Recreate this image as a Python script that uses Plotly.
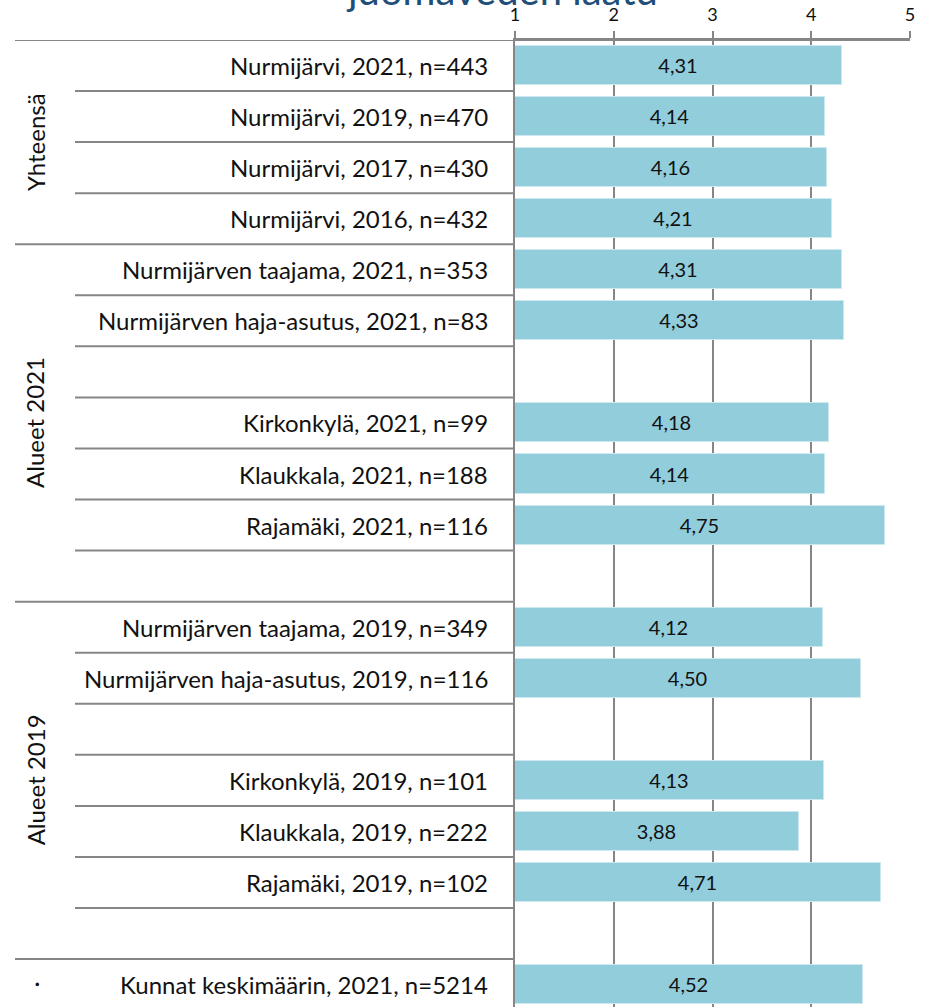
import plotly.graph_objects as go

title_text = "juomaveden laatu"
row_labels = [
    "Nurmijärvi, 2021, n=443",
    "Nurmijärvi, 2019, n=470",
    "Nurmijärvi, 2017, n=430",
    "Nurmijärvi, 2016, n=432",
    "Nurmijärven taajama, 2021, n=353",
    "Nurmijärven haja-asutus, 2021, n=83",
    "",
    "Kirkonkylä, 2021, n=99",
    "Klaukkala, 2021, n=188",
    "Rajamäki, 2021, n=116",
    "",
    "Nurmijärven taajama, 2019, n=349",
    "Nurmijärven haja-asutus, 2019, n=116",
    "",
    "Kirkonkylä, 2019, n=101",
    "Klaukkala, 2019, n=222",
    "Rajamäki, 2019, n=102",
    "",
    "Kunnat keskimäärin, 2021, n=5214",
]
values = [4.31, 4.14, 4.16, 4.21, 4.31, 4.33, None, 4.18, 4.14, 4.75, None,
          4.12, 4.50, None, 4.13, 3.88, 4.71, None, 4.52]
group_names = ["Yhteensä", "Alueet 2021", "Alueet 2019", "·"]
group_sizes = [4, 7, 7, 1]
x_ticks = [1, 2, 3, 4, 5]
scale_min = 1

FONT = "Lato"
GRAY = "#868686"
L, R, T, B = 515, 15, 40, 0
W, H = 925, 1007
plot_w = W - L - R
n_rows = len(row_labels)
row_px = 51.06
plot_h = H - T - B
y_bottom = -0.5 + plot_h / row_px

idx = list(range(n_rows))
bar_y = [i for i, v in zip(idx, values) if v is not None]
bar_v = [v for v in values if v is not None]

fig = go.Figure()
fig.add_trace(go.Bar(
    y=bar_y,
    x=[v - scale_min for v in bar_v],
    base=scale_min,
    orientation="h",
    width=0.765,
    marker=dict(color="#92CDDC", line=dict(color="#CDE8EF", width=1)),
    text=[f"{v:.2f}".replace(".", ",") for v in bar_v],
    textposition="inside",
    insidetextanchor="middle",
    textangle=0,
    textfont=dict(family=FONT, size=20, color="#111111"),
    hoverinfo="skip",
    cliponaxis=False,
))

def px_to_paper_x(p):
    return (p - L) / plot_w

shapes = []
annotations = []
full_bounds = []
pos = 0
for name, size in zip(group_names, group_sizes):
    start = pos
    end = pos + size
    full_bounds.append(start - 0.5)
    for k in range(start + 1, end):
        shapes.append(dict(type="line", xref="paper", yref="y",
                           x0=px_to_paper_x(75), x1=0, y0=k - 0.5, y1=k - 0.5,
                           line=dict(color=GRAY, width=2)))
    annotations.append(dict(text=name, xref="paper", yref="y",
                            x=px_to_paper_x(35), y=(start + end - 1) / 2,
                            textangle=-90, showarrow=False,
                            font=dict(family=FONT, size=24, color="#111111"),
                            xanchor="center", yanchor="middle"))
    pos = end

for i, b in enumerate(full_bounds):
    shapes.append(dict(type="line", xref="paper", yref="y",
                       x0=px_to_paper_x(15), x1=1 if i == 0 else 0, y0=b, y1=b,
                       line=dict(color=GRAY, width=2)))

for i, lab in enumerate(row_labels):
    if lab:
        annotations.append(dict(text=lab, xref="paper", yref="y", x=0, y=i,
                                xshift=-25, xanchor="right", yanchor="middle",
                                showarrow=False,
                                font=dict(family=FONT, size=24, color="#111111")))

annotations.append(dict(text=title_text, xref="paper", yref="paper",
                        x=px_to_paper_x(502), y=1 + 24 / plot_h,
                        xanchor="center", yanchor="bottom", showarrow=False,
                        font=dict(family=FONT, size=40, color="#1F4E79")))

fig.update_layout(
    width=W, height=H,
    margin=dict(l=L, r=R, t=T, b=B, autoexpand=False),
    paper_bgcolor="white", plot_bgcolor="white",
    showlegend=False,
    shapes=shapes,
    annotations=annotations,
    xaxis=dict(range=[x_ticks[0], x_ticks[-1]], side="top", tickvals=x_ticks,
               ticks="outside", ticklen=7, tickwidth=2, tickcolor=GRAY,
               ticklabelstandoff=3,
               showgrid=True, gridcolor=GRAY, gridwidth=2,
               zeroline=False, showline=True, linecolor=GRAY, linewidth=2,
               mirror=False, automargin=False,
               tickfont=dict(family=FONT, size=18, color="#111111")),
    yaxis=dict(range=[y_bottom, -0.5], showticklabels=False, showgrid=False,
               zeroline=False, showline=True, linecolor=GRAY, linewidth=2,
               ticks="", automargin=False),
    bargap=0,
)

fig.write_html("out.html", config={"displayModeBar": False},
               post_script="document.body.style.margin='0';document.body.style.padding='0';")
